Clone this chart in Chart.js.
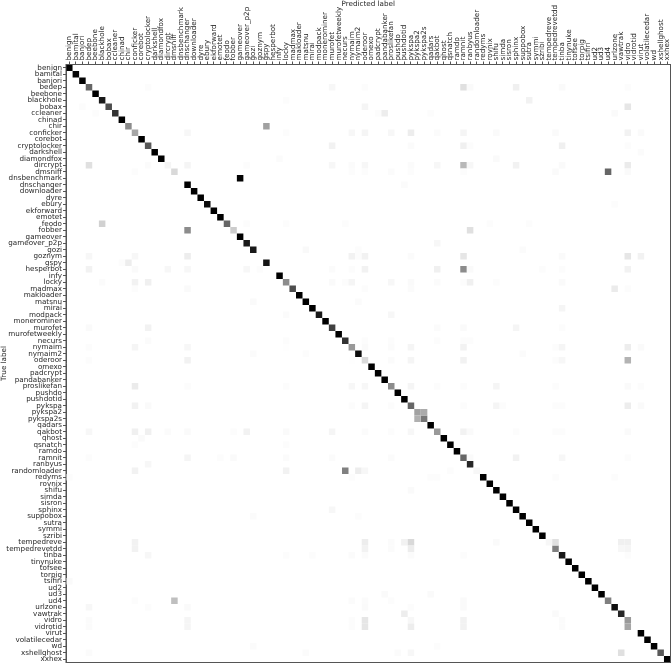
<!DOCTYPE html>
<html>
<head>
<meta charset="utf-8">
<script src="https://cdn.jsdelivr.net/npm/chart.js@4"></script>
<style>
    html, body { margin: 0; padding: 0; background: #fff; }
    canvas { display: block; }
</style>
</head>
<body>
<canvas id="cm" width="671" height="663"></canvas>
<script>
// Confusion matrix, DGA families. Values are per-row fractions.
const categories = ['benign','bamital','banjori','bedep','beebone','blackhole','bobax','ccleaner','chinad','chir',
    'conficker','corebot','cryptolocker','darkshell','diamondfox','dircrypt','dmsniff','dnsbenchmark','dnschanger','downloader',
    'dyre','ebury','ekforward','emotet','feodo','fobber','gameover','gameover_p2p','gozi','goznym',
    'gspy','hesperbot','infy','locky','madmax','makloader','matsnu','mirai','modpack','monerominer',
    'murofet','murofetweekly','necurs','nymaim','nymaim2','oderoor','omexo','padcrypt','pandabanker','proslikefan',
    'pushdo','pushdotid','pykspa','pykspa2','pykspa2s','qadars','qakbot','qhost','qsnatch','ramdo',
    'ramnit','ranbyus','randomloader','redyms','rovnix','shifu','simda','sisron','sphinx','suppobox',
    'sutra','symmi','szribi','tempedreve','tempedrevetdd','tinba','tinynuke','tofsee','torpig','tsifiri',
    'ud2','ud3','ud4','urlzone','vawtrak','vidro','vidrotid','virut','volatilecedar','wd',
    'xshellghost','xxhex'];

const diagValues = [.99,.97,.99,.6,1,.9,.7,.8,1,.45,
    .35,1,.65,1,1,.04,.15,0,1,1,
    1,.95,1,1,.6,.2,1,.9,.9,0,
    .92,0,1,.45,.7,1,1,1,.9,1,
    .75,1,.8,.4,.95,.15,1,1,1,.45,
    1,1,.6,.37,.53,1,.4,1,1,1,
    .6,.85,.03,1,1,1,1,1,1,1,
    1,1,1,.03,.5,.9,1,1,1,1,
    1,1,.5,.95,.85,.4,0,1,1,1,
    .65,1];

// [row, col, value]
const offCells = [
    [3,12,.01],[3,40,.03],[3,45,.01],[3,60,.12],[3,61,.02],[3,68,.06],[3,75,.02],[3,85,.01],
    [5,33,.01],[5,70,.05],[6,2,.01],[6,45,.04],[6,85,.1],[7,4,.01],[7,47,.01],[7,48,.07],[7,55,.01],[7,83,.02],
    [9,30,.37],
    [10,18,.03],[10,33,.01],[10,43,.03],[10,45,.04],[10,49,.03],[10,52,.07],[10,56,.015],[10,60,.04],[10,65,.02],[10,74,.02],[10,85,.05],[10,87,.02],
    [12,40,.05],[12,52,.015],[12,60,.06],[12,61,.01],[12,75,.06],[12,85,.01],[13,87,.015],[14,32,.015],[14,65,.02],
    [15,3,.12],[15,12,.015],[15,18,.04],[15,27,.01],[15,40,.03],[15,43,.015],[15,45,.03],[15,52,.015],[15,56,.03],[15,60,.28],[15,61,.03],[15,68,.05],[15,75,.02],[15,85,.08],
    [16,10,.01],[16,43,.01],[16,45,.01],[16,49,.015],[16,52,.01],[16,60,.01],[16,74,.02],[16,82,.6],[16,85,.02],
    [17,26,.99],[18,51,.015],[21,83,.01],
    [24,5,.18],[24,27,.01],[24,33,.01],[24,42,.01],[24,64,.01],[24,70,.01],
    [25,18,.45],[25,61,.12],[27,56,.03],[28,36,.025],[28,44,.01],[28,69,.015],
    [29,3,.03],[29,10,.03],[29,18,.07],[29,43,.05],[29,44,.01],[29,45,.05],[29,52,.015],[29,60,.1],[29,75,.02],[29,85,.1],[29,87,.05],
    [30,8,.01],[30,9,.07],
    [31,3,.05],[31,10,.02],[31,15,.03],[31,18,.03],[31,27,.03],[31,29,.01],[31,40,.015],[31,43,.01],[31,45,.05],[31,56,.06],[31,60,.45],[31,61,.02],[31,72,.01],[31,75,.01],[31,85,.05],
    [33,5,.015],[33,10,.05],[33,12,.06],[33,40,.02],[33,42,.01],[33,43,.04],[33,49,.03],[33,52,.02],[33,56,.015],[33,60,.01],[33,61,.06],[33,65,.01],[33,75,.02],
    [34,10,.01],[34,18,.02],[34,45,.01],[34,52,.015],[34,83,.08],[34,85,.01],
    [36,28,.02],[36,44,.015],[37,75,.04],[38,33,.015],[38,49,.03],
    [40,3,.02],[40,12,.05],[40,56,.015],[40,60,.02],[40,68,.04],[40,75,.01],
    [42,12,.015],[42,33,.01],[42,45,.01],[42,49,.01],[42,56,.01],[42,60,.01],[42,61,.01],
    [43,3,.01],[43,10,.04],[43,18,.03],[43,33,.005],[43,45,.02],[43,49,.015],[43,52,.04],[43,60,.05],[43,74,.01],[43,75,.04],[43,85,.07],[43,87,.02],
    [44,28,.015],[44,36,.01],[44,69,.015],
    [45,3,.01],[45,18,.05],[45,43,.005],[45,49,.015],[45,52,.04],[45,60,.05],[45,74,.01],[45,75,.03],[45,85,.3],
    [49,10,.08],[49,18,.01],[49,33,.01],[49,43,.03],[49,45,.03],[49,52,.04],[49,56,.01],[49,60,.01],[49,65,.04],[49,74,.01],[49,85,.02],[49,87,.01],
    [52,10,.05],[52,12,.02],[52,43,.01],[52,45,.04],[52,49,.01],[52,60,.01],[52,65,.04],[52,66,.01],[52,74,.01],[52,75,.01],[52,85,.07],[52,87,.02],
    [53,54,.33],[54,53,.31],
    [56,3,.03],[56,10,.06],[56,12,.06],[56,15,.015],[56,18,.02],[56,25,.01],[56,27,.05],[56,33,.02],[56,40,.04],[56,45,.015],[56,49,.01],[56,52,.03],[56,60,.05],[56,61,.02],[56,68,.01],[56,74,.01],[56,75,.01],[56,85,.02],
    [57,11,.02],[58,10,.01],[58,33,.01],
    [60,3,.01],[60,18,.04],[60,23,.01],[60,25,.02],[60,33,.015],[60,40,.015],[60,49,.015],[60,61,.02],[60,68,.05],[60,75,.03],[60,85,.01],
    [61,12,.03],
    [62,10,.05],[62,33,.05],[62,42,.5],[62,44,.07],[62,45,.03],[62,58,.01],
    [63,0,.01],[63,43,.01],[63,55,.01],[63,56,.01],[63,74,.01],[63,83,.01],
    [65,52,.02],[68,40,.03],[69,28,.015],[69,44,.01],
    [73,10,.05],[73,45,.07],[73,49,.015],[73,51,.05],[73,52,.15],[73,65,.02],[73,74,.12],[73,84,.06],[73,85,.06],
    [74,10,.05],[74,45,.05],[74,49,.015],[74,52,.07],[74,84,.03],[74,85,.04],
    [75,12,.03],[75,33,.01],[75,37,.01],[75,43,.015],[75,45,.015],[75,52,.015],[75,60,.01],[75,85,.01],
    [79,0,.02],[81,48,.02],[81,55,.02],
    [82,10,.01],[82,16,.25],[82,43,.015],[82,45,.015],[82,49,.01],[82,60,.02],
    [83,3,.03],[83,12,.01],[83,18,.02],[83,45,.02],[83,52,.01],[83,60,.02],
    [84,51,.07],[84,74,.02],
    [85,3,.015],[85,18,.04],[85,43,.01],[85,45,.1],[85,52,.03],[85,60,.05],[85,75,.015],
    [86,3,.015],[86,18,.04],[86,43,.01],[86,45,.1],[86,52,.07],[86,60,.05],[86,75,.015],[86,85,.35],
    [89,28,.015],[89,56,.01],
    [90,3,.015],[90,36,.015],[90,50,.015],[90,52,.03],[90,84,.12]
];

const cells = [];
diagValues.forEach((v, i) => { if (v > 0) cells.push({ x: categories[i], y: categories[i], v }); });
offCells.forEach(([r, c, v]) => cells.push({ x: categories[c], y: categories[r], v }));

function cellColor(v) {
    const g = Math.round(255 * (1 - v));
    return `rgb(${g},${g},${g})`;
}

// square cell, the rect point style has its corners on the radius
function cellRadius(ctx) {
    const area = ctx.chart.chartArea;
    if (!area) return 4.6;
    return area.height / categories.length / Math.SQRT2;
}

const TEXT = '#262626';
const FONT = { family: '"DejaVu Sans"', size: 7.2 };

const frame = {
    id: 'frame',
    afterDraw(chart) {
        const { ctx, chartArea: a } = chart;
        ctx.save();
        ctx.strokeStyle = '#555';
        ctx.lineWidth = 1;
        ctx.strokeRect(a.left, a.top, a.right - a.left, a.bottom - a.top);
        ctx.restore();
    }
};

new Chart(document.getElementById('cm').getContext('2d'), {
    type: 'scatter',
    plugins: [frame],
    data: {
        datasets: [{
            data: cells,
            pointStyle: 'rect',
            pointRadius: cellRadius,
            pointHoverRadius: cellRadius,
            borderWidth: 0,
            backgroundColor: ctx => cellColor(ctx.raw ? ctx.raw.v : 0)
        }]
    },
    options: {
        responsive: false,
        animation: false,
        layout: { padding: { right: 0.5, bottom: 0.5 }, autoPadding: false },
        plugins: { legend: { display: false }, tooltip: { enabled: false } },
        scales: {
            x: {
                type: 'category',
                labels: categories,
                position: 'top',
                offset: true,
                afterFit: s => { s.height = 64.5; s.paddingLeft = 0; s.paddingRight = 0; },
                title: { display: true, text: 'Predicted label', color: TEXT, font: FONT, padding: 0 },
                grid: { drawOnChartArea: false, tickLength: 3, color: '#555' },
                border: { color: '#555' },
                // lineHeight 0: rotated top labels are otherwise pushed half a line off their tick
                ticks: { autoSkip: false, minRotation: 90, maxRotation: 90, color: TEXT, font: { ...FONT, lineHeight: 0 }, padding: 1 }
            },
            y: {
                type: 'category',
                labels: categories,
                offset: true,
                afterFit: s => { s.width = 66; s.paddingTop = 0; s.paddingBottom = 0; },
                title: { display: true, text: 'True label', color: TEXT, font: FONT, padding: 0 },
                grid: { drawOnChartArea: false, tickLength: 3, color: '#555' },
                border: { color: '#555' },
                ticks: { autoSkip: false, color: TEXT, font: FONT, padding: 1 }
            }
        }
    }
});
</script>
</body>
</html>
